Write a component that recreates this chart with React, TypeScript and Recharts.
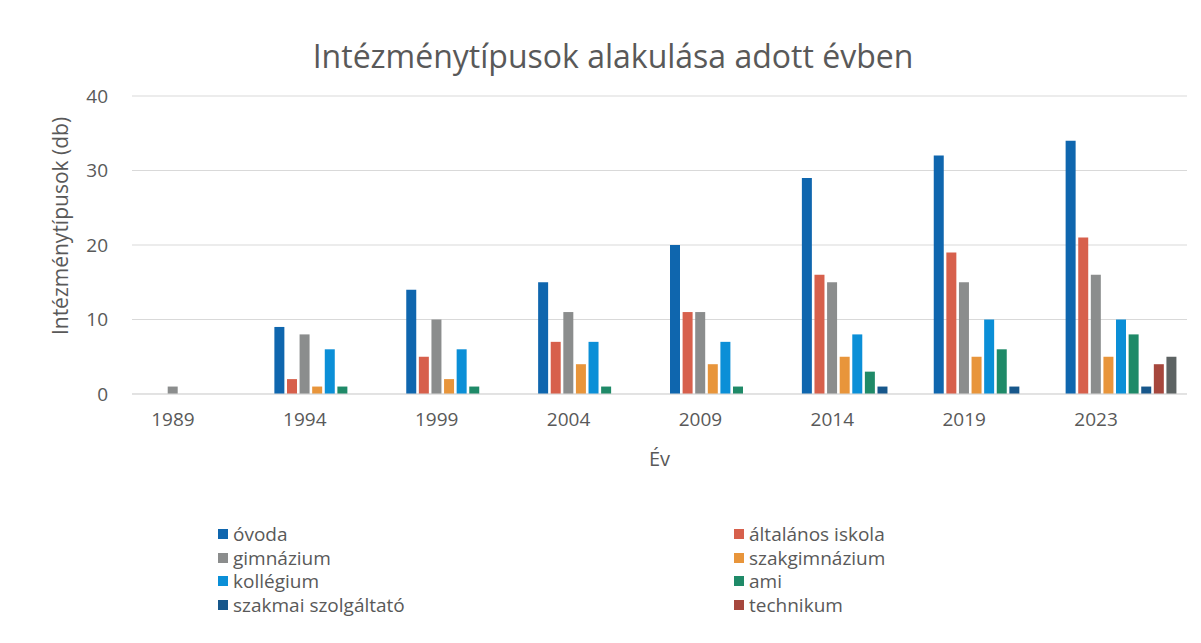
import React from 'react';
import { BarChart, Bar, XAxis, YAxis, CartesianGrid, Legend } from 'recharts';

const years = ['1989', '1994', '1999', '2004', '2009', '2014', '2019', '2023'];
const ovoda = [0, 9, 14, 15, 20, 29, 32, 34];
const altalanos = [0, 2, 5, 7, 11, 16, 19, 21];
const gimnazium = [1, 8, 10, 11, 11, 15, 15, 16];
const szakgimnazium = [0, 1, 2, 4, 4, 5, 5, 5];
const kollegium = [0, 6, 6, 7, 7, 8, 10, 10];
const ami = [0, 1, 1, 1, 1, 3, 6, 8];
const szakmai = [0, 0, 0, 0, 0, 1, 1, 1];
const technikum = [0, 0, 0, 0, 0, 0, 0, 4];
const egyeb = [0, 0, 0, 0, 0, 0, 0, 5];
const yTicks = [0, 10, 20, 30, 40];

const seriesDefs = [
  { key: 'ovoda', name: 'óvoda', color: '#0f66ae', values: ovoda, legend: true },
  { key: 'altalanos', name: 'általános iskola', color: '#d7604c', values: altalanos, legend: true },
  { key: 'gimnazium', name: 'gimnázium', color: '#8b8d8d', values: gimnazium, legend: true },
  { key: 'szakgimnazium', name: 'szakgimnázium', color: '#e8953b', values: szakgimnazium, legend: true },
  { key: 'kollegium', name: 'kollégium', color: '#0b8fd7', values: kollegium, legend: true },
  { key: 'ami', name: 'ami', color: '#1f8a68', values: ami, legend: true },
  { key: 'szakmai', name: 'szakmai szolgáltató', color: '#17578b', values: szakmai, legend: true },
  { key: 'technikum', name: 'technikum', color: '#a6473d', values: technikum, legend: true },
  { key: 'egyeb', name: 'egyéb', color: '#5d6363', values: egyeb, legend: false },
];

const data = years.map((y, i) => {
  const row: any = { year: y };
  seriesDefs.forEach((s) => {
    row[s.key] = s.values[i];
  });
  return row;
});

const FONT = '"Open Sans", sans-serif';
const TEXT = '#595959';

const renderLegend = (props: any) => {
  const payload = (props.payload || []) as any[];
  const items = seriesDefs
    .filter((s) => s.legend)
    .map((s) => {
      const p = payload.find((q) => q.dataKey === s.key);
      return { value: s.name, color: p ? p.color : s.color };
    });
  return (
    <div
      style={{
        height: 100,
        position: 'relative',
        fontFamily: FONT,
        fontSize: 19,
        color: TEXT,
      }}
    >
      {items.map((it, i) => {
        const col = i % 2;
        const row = Math.floor(i / 2);
        return (
          <div
            key={it.value}
            style={{
              position: 'absolute',
              left: col === 0 ? 218 : 734,
              top: row * 23.5,
              display: 'flex',
              alignItems: 'center',
              height: 22,
              whiteSpace: 'nowrap',
            }}
          >
            <span
              style={{
                display: 'inline-block',
                width: 10,
                height: 10,
                background: it.color,
                marginRight: 5,
              }}
            />
            <span>{it.value}</span>
          </div>
        );
      })}
    </div>
  );
};

const YLabel = (props: any) => {
  const vb = props.viewBox || { x: 0, y: 0, width: 0, height: 0 };
  const cx = vb.x + 60;
  const cy = 226;
  return (
    <text
      x={cx}
      y={cy}
      transform={`rotate(-90, ${cx}, ${cy})`}
      textAnchor="middle"
      dominantBaseline="central"
      fill={TEXT}
      fontFamily={FONT}
      fontSize={21}
    >
      Intézménytípusok (db)
    </text>
  );
};

export default function App() {
  return (
    <div style={{ position: 'absolute', left: 0, top: 0, width: 1201, height: 643, background: '#fff' }}>
      <div
        style={{
          position: 'absolute',
          left: 0,
          width: 1201,
          top: 34,
          textAlign: 'center',
          paddingLeft: 25,
          boxSizing: 'border-box',
          fontFamily: FONT,
          fontSize: 32,
          color: TEXT,
          lineHeight: '44px',
        }}
      >
        Intézménytípusok alakulása adott évben
      </div>
      <BarChart
        width={1201}
        height={643}
        data={data}
        margin={{ top: 96, right: 14, left: 0, bottom: 0 }}
        barGap={2.6}
        barCategoryGap={10.5}
      >
        <CartesianGrid horizontal vertical={false} stroke="#d9d9d9" />
        <XAxis
          dataKey="year"
          height={149}
          tickLine={false}
          axisLine={{ stroke: '#d9d9d9' }}
          tickSize={0}
          tickMargin={19}
          dx={-25}
          tick={{ fill: TEXT, fontFamily: FONT, fontSize: 19 }}
          label={{ value: 'Év', position: 'insideTop', offset: 58, fill: TEXT, fontFamily: FONT, fontSize: 20 }}
        />
        <YAxis
          width={132}
          domain={[0, 40]}
          ticks={yTicks}
          tickLine={false}
          axisLine={false}
          tickSize={0}
          tickMargin={24}
          tick={{ fill: TEXT, fontFamily: FONT, fontSize: 19 }}
          label={<YLabel />}
        />
        <Legend verticalAlign="bottom" content={renderLegend} wrapperStyle={{ top: 523, left: 0 }} />
        {seriesDefs.map((s) => (
          <Bar
            key={s.key}
            dataKey={s.key}
            name={s.name}
            fill={s.color}
            isAnimationActive={false}
            legendType={s.legend ? 'square' : 'none'}
          />
        ))}
      </BarChart>
    </div>
  );
}
